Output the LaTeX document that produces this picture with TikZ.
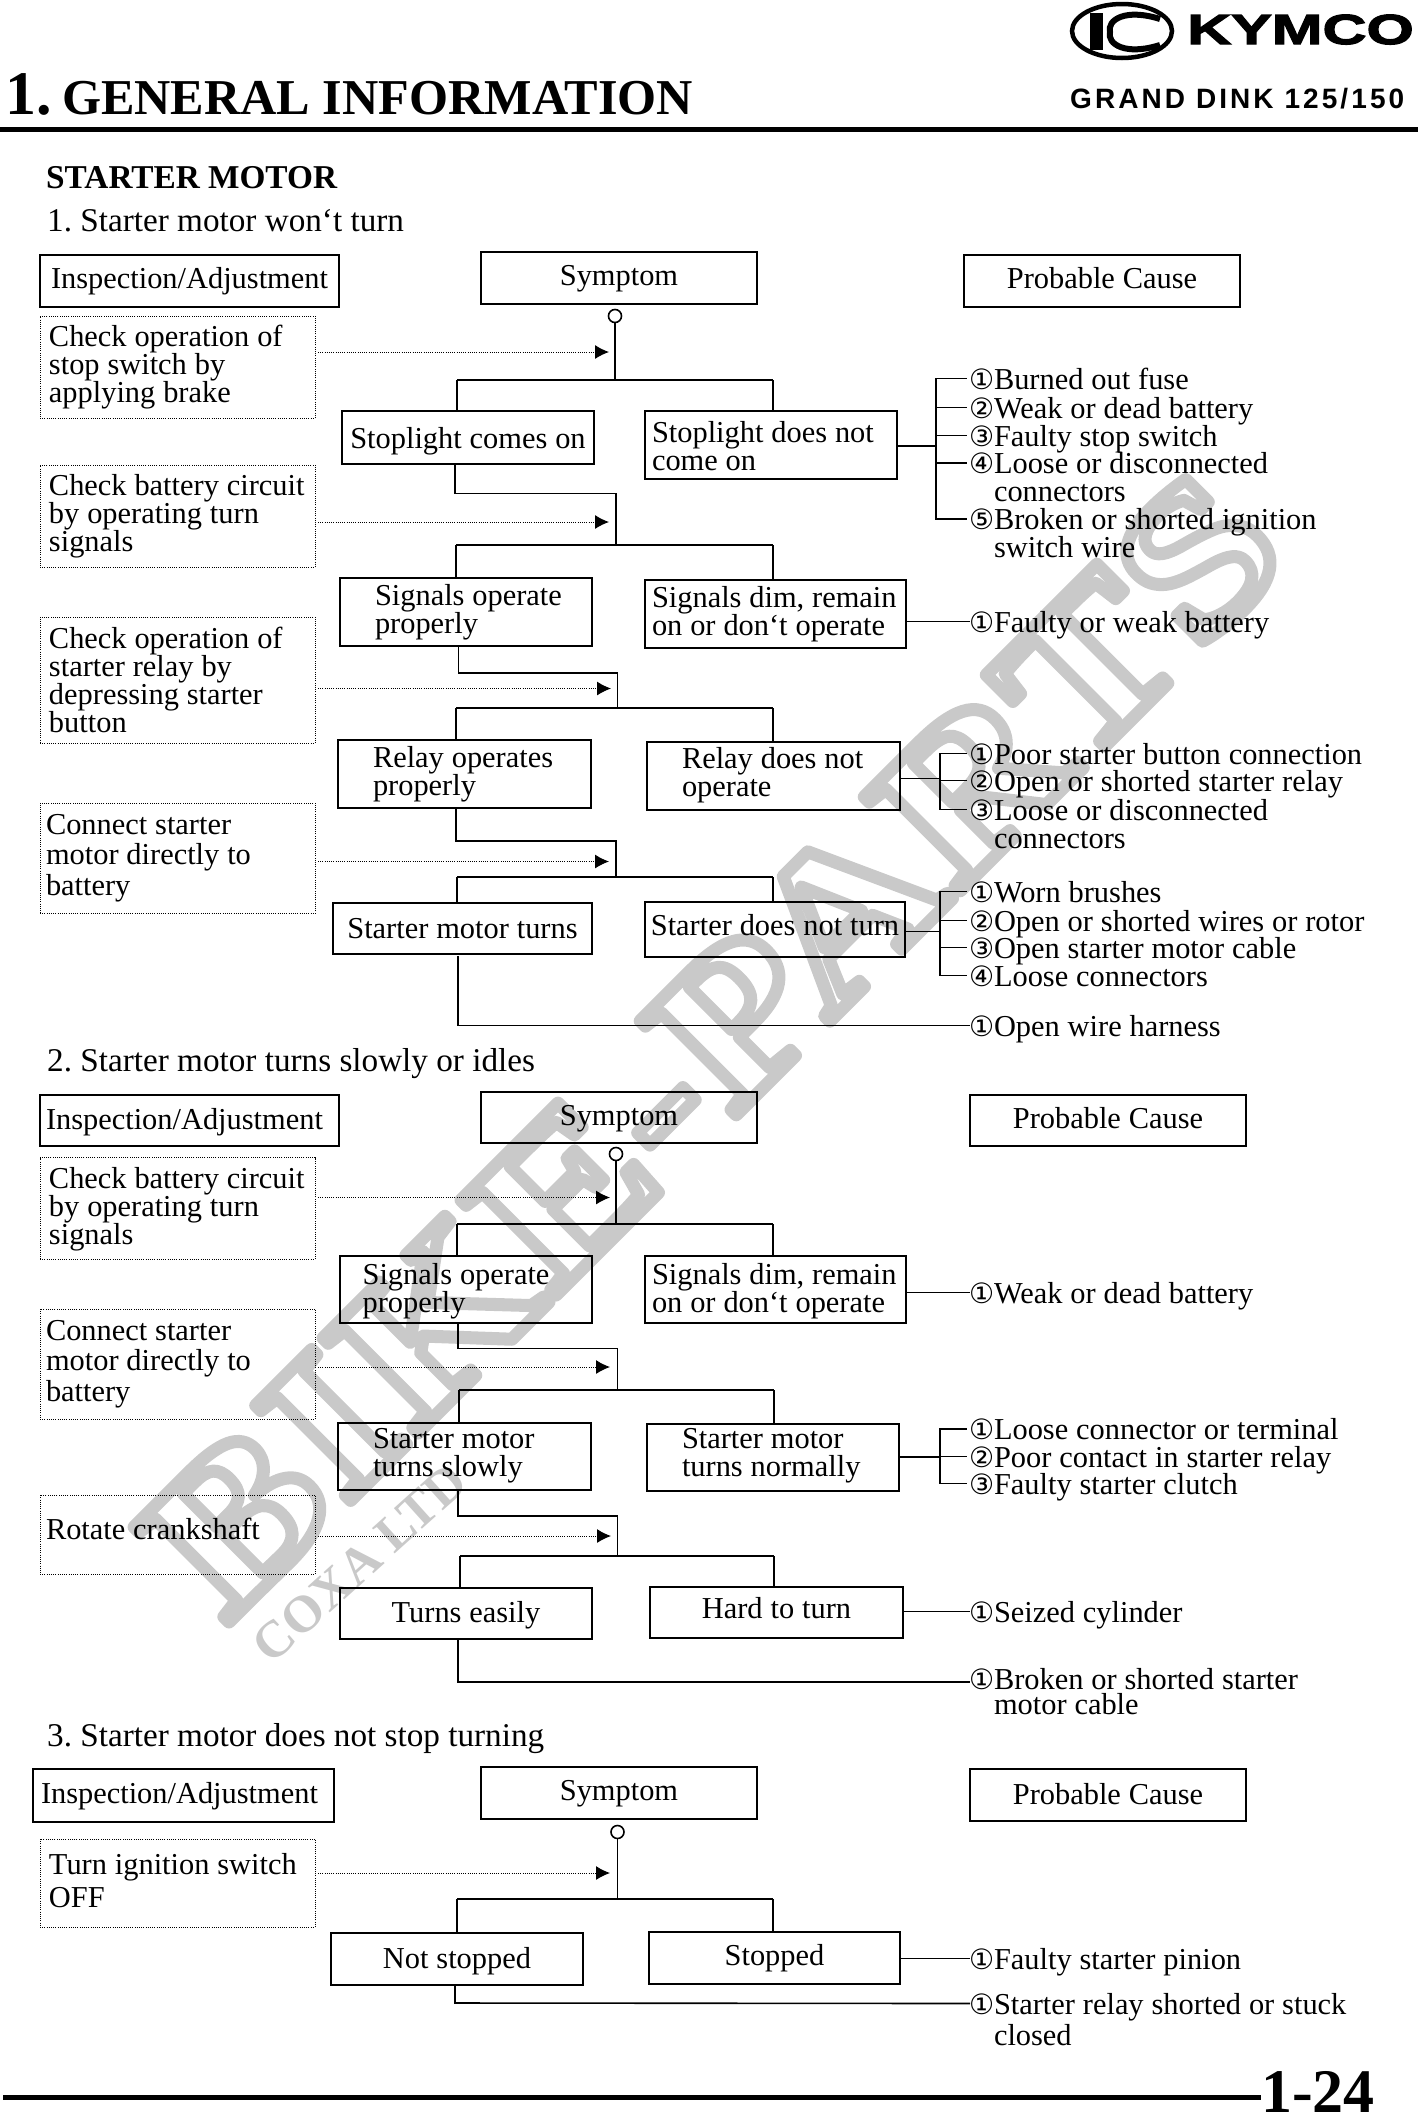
\documentclass[tikz,border=0pt]{standalone}
\usepackage{fontspec}
\usetikzlibrary{arrows.meta}
\setmainfont{Liberation Serif}
\newfontfamily\circfont{DejaVu Sans}
\newfontfamily\modelfont[LetterSpace=11]{Liberation Sans}
\newfontfamily\brandfont[FakeStretch=1.45,FakeBold=3]{Liberation Sans}
\newfontfamily\markfont[LetterSpace=1.8,FakeStretch=1.2]{Liberation Serif}
\newcommand\circnum[1]{\makebox[24pt][l]{\hspace{-1pt}\fontsize{28}{28}\circfont #1}}
\newcommand\hangline{\hspace*{24pt}}
\newcommand\hollowtext[1]{\special{pdf:code 1 Tr 13 w 1 j 1 J 0.79 G}#1\special{pdf:code 0 Tr}}
\newcommand\flowfontat[1]{\fontsize{30.4}{#1}\selectfont}
\frenchspacing
\tikzset{
	flowbox/.style args={#1/#2/#3}{draw,line width=1.8pt,anchor=north west,outer sep=0pt,inner sep=0pt,
		minimum width=#1pt,text height=#2pt+1pt,text depth=#3pt-1pt,font=\flowfontat{28},
		execute at begin node={\spaceskip=7.9pt\relax}},
	flowlines/.style args={#1/#2/#3/#4}{draw,line width=1.8pt,anchor=north west,outer sep=0pt,inner sep=0pt,
		text width=#1pt,text height=#2pt+1pt,text depth=#3pt-1pt,font=\flowfontat{28},
		execute at begin node={\spaceskip=7.9pt\relax\leftskip=#4pt\rightskip=0pt plus 1fil\parfillskip=0pt plus 1fil}},
	checkbox/.style={line width=1pt,dash pattern=on 1pt off 1.2pt},
	causetext/.style={anchor=base west,outer sep=0pt,inner sep=0pt,text width=440pt,text height=21pt,text depth=0pt,
		yshift=-1pt,font=\flowfontat{28},execute at begin node={\spaceskip=7.9pt\relax\rightskip=0pt plus 1fil}},
	heading/.style={anchor=base west,inner sep=0pt,yshift=-1.2pt,font=\fontsize{33.2}{33}\selectfont},
	joint/.style={circle,draw,line width=1.6pt,minimum size=13pt,inner sep=0pt},
	wire/.style={line width=1.6pt},
	bar/.style={line width=2.2pt},
	tick/.style={line width=1.6pt,shorten >=3pt},
	probe/.style={line width=1pt,dash pattern=on 1pt off 1.2pt,shorten <=3pt,-{Latex[length=14pt,width=14pt]}},
	rule/.style={line width=5pt}
}
\begin{document}
\begin{tikzpicture}[x=1pt,y=-1pt]
\useasboundingbox (0,0) rectangle (1418,2113);

	\node[anchor=base west,inner sep=0pt,rotate=45,font=\fontsize{205}{205}\markfont\bfseries](watermark) at (226,1625){\hollowtext{BIKE-PARTS}};
	\node[anchor=base west,inner sep=0pt,rotate=42,text=black!21,font=\fontsize{52}{52}\selectfont\bfseries](watermark2) at (271,1666){COXA LTD};

	\draw[line width=4.5pt](1122,31)ellipse[x radius=50,y radius=27];
	\fill(1090,13)rectangle(1103,50);
	\draw[line width=6pt](1160,19)..controls(1125,8)and(1107,20)..(1110,32)..controls(1107,44)and(1125,56)..(1160,45);
	\node[anchor=base west,inner sep=0pt,font=\fontsize{42}{42}\brandfont\bfseries](brand) at (1187,44){KYMCO};
	\node[anchor=base west,inner sep=0pt,font=\fontsize{28}{28}\modelfont\bfseries](model) at (1070,108.6){GRAND DINK 125/150};
	\node[anchor=base west,inner sep=0pt,font=\fontsize{62}{62}\selectfont\bfseries](chapter) at (5,114){1.};
	\node[anchor=base west,inner sep=0pt,font=\fontsize{50.2}{50}\selectfont\bfseries](title) at (62,114){GENERAL INFORMATION};
	\draw[rule](0,129)--(1418,129);
	\node[heading,font=\fontsize{33.3}{33}\selectfont\bfseries](topic) at (46,187.5){STARTER MOTOR};

	\node[heading](part1) at (47,230){1. Starter motor won‘t turn};
	\node[flowbox={299/32.5/19.5}](inspect1) at (40,255){Inspection/Adjustment};
	\node[flowbox={276/32/20}](symptom1) at (481,252){Symptom};
	\node[flowbox={276/32.5/19.5}](probable1) at (964,255){Probable Cause};

	\node[joint](joint1) at (615,316){};
	\coordinate(tip1) at (609,352);
	\coordinate(fork1) at (615,380);
	\coordinate(leg1a) at (457,380);
	\coordinate(leg1b) at (773,380);
	\node[flowlines={275/29/73/9},checkbox](check1) at (40,316){Check operation of\\stop switch by\\applying brake};
	\node[flowbox={252/36/17}](stopon) at (342,411){Stoplight comes on};
	\node[flowlines={252/30/38/7}](stopoff) at (645,411){Stoplight does not\\come on};
	\draw[wire](joint1)--(fork1);
	\draw[probe](check1.east|-tip1)--(tip1);
	\draw[bar](leg1a)--(leg1b);
	\draw[wire](leg1a)--(leg1a|-stopon.north);
	\draw[wire](leg1b)--(leg1b|-stopoff.north);

	\node[causetext](cause1a) at (970,388){\circnum{①}Burned out fuse};
	\node[causetext](cause1b) at (970,417){\circnum{②}Weak or dead battery};
	\node[causetext](cause1c) at (970,445){\circnum{③}Faulty stop switch};
	\node[causetext](cause1d) at (970,472.5){\circnum{④}Loose or disconnected\\\hangline connectors};
	\node[causetext](cause1e) at (970,528.5){\circnum{⑤}Broken or shorted ignition\\\hangline switch wire};
	\coordinate(bus1) at (936,446);
	\draw[wire](stopoff.east|-bus1)--(bus1);
	\draw[tick](bus1)|-(cause1a.west);
	\draw[tick](bus1)|-(cause1b.west);
	\draw[tick](bus1)|-(cause1c.west);
	\draw[tick](bus1)|-(cause1d.west);
	\draw[tick](bus1)|-(cause1e.west);

	\coordinate(turn2) at (455,493.5);
	\coordinate(tip2) at (609,522);
	\coordinate(fork2) at (616,545);
	\coordinate(leg2a) at (456,545);
	\coordinate(leg2b) at (773,545);
	\node[flowlines={275/29/73/9},checkbox](check2) at (40,465){Check battery circuit\\by operating turn\\signals};
	\node[flowlines={252/26/42/35}](signalon) at (340,578){Signals operate\\properly};
	\node[flowlines={261/26.5/41.5/7}](signaldim) at (645,580){Signals dim, remain\\on or don‘t operate};
	\draw[wire](turn2|-stopon.south)--(turn2)--(turn2-|fork2)--(fork2);
	\draw[probe](check2.east|-tip2)--(tip2);
	\draw[bar](leg2a)--(leg2b);
	\draw[wire](leg2a)--(leg2a|-signalon.north);
	\draw[wire](leg2b)--(leg2b|-signaldim.north);
	\node[causetext](cause2a) at (970,631){\circnum{①}Faulty or weak battery};
	\draw[wire](signaldim.east|-cause2a.west)--(cause2a.west);

	\coordinate(turn3) at (458.5,673);
	\coordinate(tip3) at (611,688.5);
	\coordinate(fork3) at (617.5,708);
	\coordinate(leg3a) at (456,708);
	\coordinate(leg3b) at (773,708);
	\node[flowlines={275/30.6/95.4/9},checkbox](check3) at (40,617){Check operation of\\starter relay by\\depressing starter\\button};
	\node[flowlines={253/26/42/35}](relayon) at (338,740){Relay operates\\properly};
	\node[flowlines={253/25/43/35}](relayoff) at (647,742){Relay does not\\operate};
	\draw[wire](turn3|-signalon.south)--(turn3)--(turn3-|fork3)--(fork3);
	\draw[probe](check3.east|-tip3)--(tip3);
	\draw[bar](leg3a)--(leg3b);
	\draw[wire](leg3a)--(leg3a|-relayon.north);
	\draw[wire](leg3b)--(leg3b|-relayoff.north);

	\node[causetext](cause3a) at (970,763){\circnum{①}Poor starter button connection};
	\node[causetext](cause3b) at (970,790){\circnum{②}Open or shorted starter relay};
	\node[causetext](cause3c) at (970,819){\circnum{③}Loose or disconnected\\\hangline connectors};
	\coordinate(bus3) at (940,778.6);
	\draw[wire](relayoff.east|-bus3)--(bus3);
	\draw[tick](bus3)|-(cause3a.west);
	\draw[tick](bus3)|-(cause3b.west);
	\draw[tick](bus3)|-(cause3c.west);

	\coordinate(turn4) at (456,841);
	\coordinate(tip4) at (609,861.5);
	\coordinate(fork4) at (616,877);
	\coordinate(leg4a) at (457,877);
	\coordinate(leg4b) at (773,877);
	\node[flowlines={275/30/80.6/6},checkbox,font=\flowfontat{30.5}](check4) at (40,803){Connect starter\\motor directly to\\battery};
	\node[flowbox={259/34.5/16.5}](motorturns) at (333,903){Starter motor turns};
	\node[flowbox={260/32/23}](motorstill) at (645,902){Starter does not turn};
	\draw[wire](turn4|-relayon.south)--(turn4)--(turn4-|fork4)--(fork4);
	\draw[probe](check4.east|-tip4)--(tip4);
	\draw[bar](leg4a)--(leg4b);
	\draw[wire](leg4a)--(leg4a|-motorturns.north);
	\draw[wire](leg4b)--(leg4b|-motorstill.north);

	\node[causetext](cause4a) at (970,901){\circnum{①}Worn brushes};
	\node[causetext](cause4b) at (970,930){\circnum{②}Open or shorted wires or rotor};
	\node[causetext](cause4c) at (970,957){\circnum{③}Open starter motor cable};
	\node[causetext](cause4d) at (970,985){\circnum{④}Loose connectors};
	\coordinate(bus4) at (940,931.4);
	\draw[wire](motorstill.east|-bus4)--(bus4);
	\draw[tick](bus4)|-(cause4a.west);
	\draw[tick](bus4)|-(cause4b.west);
	\draw[tick](bus4)|-(cause4c.west);
	\draw[tick](bus4)|-(cause4d.west);

	\coordinate(drop1) at (458,956);
	\node[causetext](cause5a) at (970,1035){\circnum{①}Open wire harness};
	\draw[wire](drop1)|-(cause5a.west);

	\node[heading](part2) at (47,1070){2. Starter motor turns slowly or idles};
	\node[flowlines={299/33/18/6}](inspect2) at (40,1095){Inspection/Adjustment};
	\node[flowbox={276/32.5/18.5}](symptom2) at (481,1092){Symptom};
	\node[flowbox={276/32/19}](probable2) at (970,1095){Probable Cause};

	\node[joint](joint2) at (616,1154){};
	\coordinate(tip5) at (610,1197.5);
	\coordinate(fork5) at (616,1224);
	\coordinate(leg5a) at (457,1224);
	\coordinate(leg5b) at (773,1224);
	\node[flowlines={275/29.5/72/9},checkbox](check5) at (40,1157.5){Check battery circuit\\by operating turn\\signals};
	\node[flowlines={252/27/40/22.6}](signalon2) at (340,1256){Signals operate\\properly};
	\node[flowlines={261/27/40/7}](signaldim2) at (645,1256){Signals dim, remain\\on or don‘t operate};
	\draw[wire](joint2)--(fork5);
	\draw[probe](check5.east|-tip5)--(tip5);
	\draw[bar](leg5a)--(leg5b);
	\draw[wire](leg5a)--(leg5a|-signalon2.north);
	\draw[wire](leg5b)--(leg5b|-signaldim2.north);
	\node[causetext](cause6a) at (970,1302){\circnum{①}Weak or dead battery};
	\draw[wire](signaldim2.east|-cause6a.west)--(cause6a.west);

	\coordinate(turn6) at (458,1348.6);
	\coordinate(tip6) at (610,1367);
	\coordinate(fork6) at (617.5,1390);
	\coordinate(leg6a) at (459,1390);
	\coordinate(leg6b) at (774,1390);
	\node[flowlines={275/30/80/6},checkbox,font=\flowfontat{30.5}](check6) at (40,1309){Connect starter\\motor directly to\\battery};
	\node[flowlines={253/24.5/42.5/35}](turnslow) at (338,1423){Starter motor\\turns slowly};
	\node[flowlines={252/24/43.4/35}](turnnormal) at (647,1423.6){Starter motor\\turns normally};
	\draw[wire](turn6|-signalon2.south)--(turn6)--(turn6-|fork6)--(fork6);
	\draw[probe](check6.east|-tip6)--(tip6);
	\draw[bar](leg6a)--(leg6b);
	\draw[wire](leg6a)--(leg6a|-turnslow.north);
	\draw[wire](leg6b)--(leg6b|-turnnormal.north);

	\node[causetext](cause7a) at (970,1438.6){\circnum{①}Loose connector or terminal};
	\node[causetext](cause7b) at (970,1466){\circnum{②}Poor contact in starter relay};
	\node[causetext](cause7c) at (970,1493){\circnum{③}Faulty starter clutch};
	\coordinate(bus7) at (940,1457);
	\draw[wire](turnnormal.east|-bus7)--(bus7);
	\draw[tick](bus7)|-(cause7a.west);
	\draw[tick](bus7)|-(cause7b.west);
	\draw[tick](bus7)|-(cause7c.west);

	\coordinate(turn7) at (458,1516);
	\coordinate(tip7) at (611,1536);
	\coordinate(fork7) at (617.5,1556);
	\coordinate(leg7a) at (460,1556);
	\coordinate(leg7b) at (774,1556);
	\node[flowlines={275/43/36/6},checkbox](check7) at (40,1495){Rotate crankshaft};
	\node[flowbox={252/33/17.6}](turneasy) at (340,1588){Turns easily};
	\node[flowbox={253/30.5/20.5}](turnhard) at (650,1587){Hard to turn};
	\draw[wire](turn7|-turnslow.south)--(turn7)--(turn7-|fork7)--(fork7);
	\draw[probe](check7.east|-tip7)--(tip7);
	\draw[bar](leg7a)--(leg7b);
	\draw[wire](leg7a)--(leg7a|-turneasy.north);
	\draw[wire](leg7b)--(leg7b|-turnhard.north);
	\node[causetext](cause8a) at (970,1621){\circnum{①}Seized cylinder};
	\draw[wire](turnhard.east|-cause8a.west)--(cause8a.west);

	\coordinate(turn8) at (458,1682);
	\node[causetext,font=\flowfontat{25}](cause9a) at (970,1688){\circnum{①}Broken or shorted starter\\\hangline motor cable};
	\draw[wire](turn8|-turneasy.south)--(turn8)--(turn8-|cause9a.west);

	\node[heading](part3) at (47,1745){3. Starter motor does not stop turning};
	\node[flowlines={301/33/20/8}](inspect3) at (33,1769){Inspection/Adjustment};
	\node[flowbox={276/32/20}](symptom3) at (481,1767){Symptom};
	\node[flowbox={276/34/18}](probable3) at (970,1769){Probable Cause};

	\node[joint](joint3) at (617.5,1832){};
	\coordinate(tip9) at (610,1873);
	\coordinate(fork9) at (617.5,1899);
	\coordinate(leg9a) at (457,1899);
	\coordinate(leg9b) at (773,1899);
	\node[flowlines={275/34/54/9},checkbox,font=\flowfontat{33}](check8) at (40,1839){Turn ignition switch\\OFF};
	\node[flowbox={252/34/18}](notstopped) at (331,1933){Not stopped};
	\node[flowbox={251/32/20}](stopped) at (649,1932){Stopped};
	\draw[wire](joint3)--(fork9);
	\draw[probe](check8.east|-tip9)--(tip9);
	\draw[bar](leg9a)--(leg9b);
	\draw[wire](leg9a)--(leg9a|-notstopped.north);
	\draw[wire](leg9b)--(leg9b|-stopped.north);
	\node[causetext](cause10a) at (970,1968){\circnum{①}Faulty starter pinion};
	\draw[wire](stopped.east|-cause10a.west)--(cause10a.west);

	\coordinate(turn9) at (455,2003);
	\node[causetext,font=\flowfontat{31}](cause11a) at (970,2013){\circnum{①}Starter relay shorted or stuck\\\hangline closed};
	\draw[wire](turn9|-notstopped.south)--(turn9)--(cause11a.west);

	\draw[rule](3,2097)--(1261,2097);
	\node[anchor=base west,inner sep=0pt,font=\fontsize{62}{62}\selectfont\bfseries](pageno) at (1261,2112){1-24};
\end{tikzpicture}
\end{document}
